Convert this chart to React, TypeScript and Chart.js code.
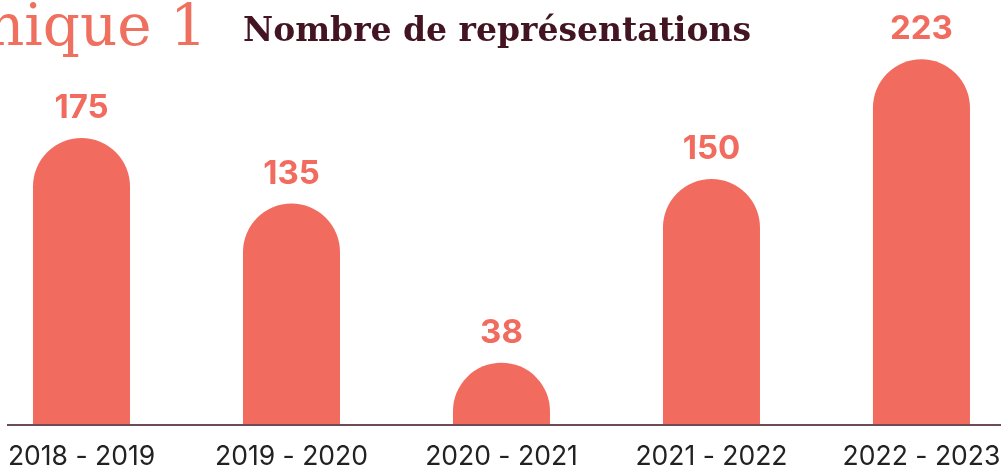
import React, { useEffect, useRef } from "react";
import { Chart, registerables } from "chart.js";

Chart.register(...registerables);

const categories = ["2018 - 2019", "2019 - 2020", "2020 - 2021", "2021 - 2022", "2022 - 2023"];
const representations = [175, 135, 38, 150, 223];
const barColor = "#f26b5f";

const roundTopBars = {
  id: "roundTopBars",
  beforeDatasetDraw(chart: any, args: any) {
    const meta = args.meta;
    const ctx = chart.ctx;
    ctx.save();
    ctx.fillStyle = barColor;
    meta.data.forEach((el: any) => {
      const { x, y, base, width } = el.getProps(["x", "y", "base", "width"], true);
      const r = width / 2;
      const left = x - r;
      const right = x + r;
      ctx.beginPath();
      ctx.moveTo(left, base);
      ctx.lineTo(left, y + r);
      ctx.arc(x, y + r, r, Math.PI, 0, false);
      ctx.lineTo(right, base);
      ctx.closePath();
      ctx.fill();
    });
    ctx.restore();
    return false;
  },
  afterDatasetsDraw(chart: any) {
    const ctx = chart.ctx;
    const meta = chart.getDatasetMeta(0);
    ctx.save();
    ctx.fillStyle = barColor;
    ctx.font = "700 33px Inter";
    ctx.textAlign = "center";
    ctx.textBaseline = "middle";
    meta.data.forEach((el: any, i: number) => {
      const { x, y } = el.getProps(["x", "y"], true);
      ctx.fillText(String(representations[i]), x, y - 30);
    });
    ctx.restore();
  },
};

export default function App() {
  const canvasRef = useRef<HTMLCanvasElement | null>(null);

  useEffect(() => {
    if (!canvasRef.current) return;
    const chart = new Chart(canvasRef.current, {
      type: "bar",
      data: {
        datasets: [
          {
            label: "Nombre de représentations",
            data: representations.map((v, i) => ({ x: i, y: v })),
            backgroundColor: barColor,
            barPercentage: 0.462,
            categoryPercentage: 1,
          },
        ],
      },
      options: {
        animation: false,
        responsive: false,
        layout: { padding: { left: 8, right: 3, top: 15, bottom: 3 } },
        plugins: {
          legend: { display: false },
          tooltip: { enabled: false },
          title: { display: false },
        },
        scales: {
          x: {
            type: "linear",
            offset: false,
            min: -0.35,
            max: 4.374,
            grid: { display: false, drawTicks: false },
            border: { display: true, color: "#6e4b57", width: 2, z: 1 },
            afterBuildTicks: (scale: any) => {
              scale.ticks = categories.map((_, i) => ({ value: i }));
            },
            afterFit: (scale: any) => {
              scale.height = 42;
              scale.paddingLeft = 0;
              scale.paddingRight = 0;
            },
            ticks: {
              autoSkip: false,
              maxRotation: 0,
              padding: 16,
              color: "#222222",
              font: { family: "Inter", size: 26.5 },
              callback: (value: any) => categories[value as number] ?? "",
            },
          },
          y: {
            display: false,
            min: 0,
            max: 250,
          },
        },
      },
      plugins: [roundTopBars],
    });
    return () => chart.destroy();
  }, []);

  return (
    <div
      style={{
        position: "fixed",
        left: 0,
        top: 0,
        width: 1003,
        height: 470,
        overflow: "hidden",
        background: "#ffffff",
      }}
    >
      <canvas ref={canvasRef} width={1003} height={470} style={{ position: "absolute", left: 0, top: 0 }} />
      <div
        style={{
          position: "absolute",
          right: 796,
          top: -4,
          fontFamily: "'DejaVu Serif', serif",
          fontSize: 58,
          lineHeight: "58px",
          color: "#f0705f",
          whiteSpace: "nowrap",
        }}
      >
        Graphique 1
      </div>
      <div
        style={{
          position: "absolute",
          left: 243,
          top: 13,
          fontFamily: "'DejaVu Serif', serif",
          fontWeight: 700,
          fontSize: 33,
          lineHeight: "33px",
          color: "#431422",
          whiteSpace: "nowrap",
        }}
      >
        Nombre de représentations
      </div>
    </div>
  );
}
